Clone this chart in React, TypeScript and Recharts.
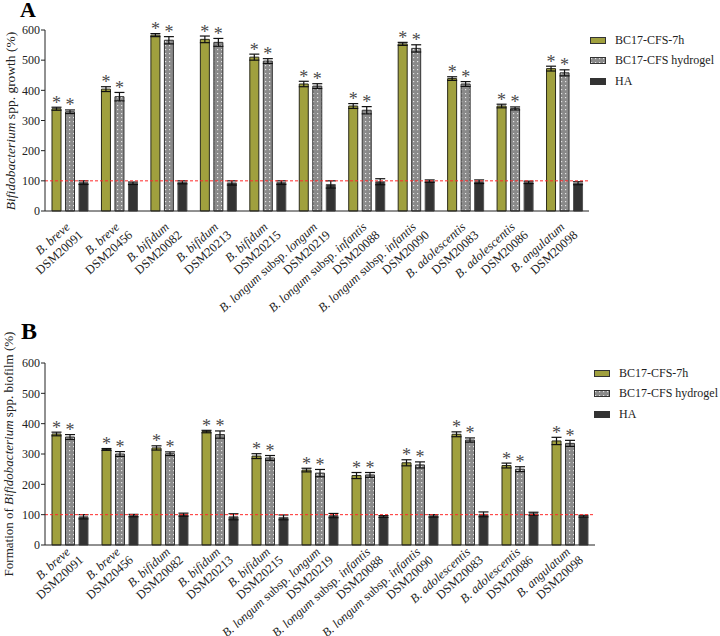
import React from 'react';
import { BarChart, Bar, XAxis, YAxis, ErrorBar, LabelList, ReferenceLine, Legend } from 'recharts';

const FONT = '"Liberation Serif", "Times New Roman", serif';
const GREEN = '#a0a03e';
const DARK = '#333333';

const species = [
  'B. breve',
  'B. breve',
  'B. bifidum',
  'B. bifidum',
  'B. bifidum',
  'B. longum subsp. longum',
  'B. longum subsp. infantis',
  'B. longum subsp. infantis',
  'B. adolescentis',
  'B. adolescentis',
  'B. angulatum',
];
const strains = [
  'DSM20091', 'DSM20456', 'DSM20082', 'DSM20213', 'DSM20215', 'DSM20219',
  'DSM20088', 'DSM20090', 'DSM20083', 'DSM20086', 'DSM20098',
];

// panel A: growth (%)
const growth7h = [339, 404, 583, 569, 510, 421, 348, 554, 439, 348, 472];
const growth7hErr = [5, 8, 5, 11, 10, 9, 8, 5, 6, 6, 8];
const growthGel = [329, 379, 566, 559, 497, 414, 334, 539, 421, 340, 458];
const growthGelErr = [6, 14, 12, 13, 8, 8, 12, 12, 8, 5, 10];
const growthHA = [94, 92, 95, 93, 94, 88, 97, 99, 97, 95, 92];
const growthHAErr = [6, 4, 5, 7, 6, 12, 10, 4, 6, 4, 5];

// panel B: biofilm formation (%)
const biofilm7h = [366, 315, 320, 374, 293, 247, 229, 271, 365, 262, 343];
const biofilm7hErr = [6, 3, 7, 4, 8, 6, 10, 10, 8, 8, 12];
const biofilmGel = [356, 300, 301, 364, 287, 237, 231, 264, 346, 250, 335];
const biofilmGelErr = [8, 8, 6, 12, 8, 12, 8, 10, 7, 8, 10];
const biofilmHA = [93, 97, 100, 93, 91, 97, 94, 96, 101, 103, 95];
const biofilmHAErr = [7, 4, 5, 10, 8, 7, 3, 4, 8, 5, 3];

const yTicks = [0, 100, 200, 300, 400, 500, 600];

const seriesNames = ['BC17-CFS-7h', 'BC17-CFS hydrogel', 'HA'];
const seriesFills = [GREEN, 'url(#dotsPattern)', DARK];

function buildRows(a: number[], ae: number[], b: number[], be: number[], c: number[], ce: number[]) {
  return strains.map((s, i) => ({
    strain: s,
    species: species[i],
    cfs: a[i],
    cfsErr: ae[i],
    gel: b[i],
    gelErr: be[i],
    ha: c[i],
    haErr: ce[i],
  }));
}

const growthRows = buildRows(growth7h, growth7hErr, growthGel, growthGelErr, growthHA, growthHAErr);
const biofilmRows = buildRows(biofilm7h, biofilm7hErr, biofilmGel, biofilmGelErr, biofilmHA, biofilmHAErr);

function SpeciesName({ name }: { name: string }) {
  const parts = name.split(' subsp. ');
  if (parts.length === 1) return <tspan fontStyle="italic">{name}</tspan>;
  return (
    <>
      <tspan fontStyle="italic">{parts[0]}</tspan>
      <tspan fontStyle="normal"> subsp. </tspan>
      <tspan fontStyle="italic">{parts[1]}</tspan>
    </>
  );
}

// two-line rotated label: species (italic) above, strain below
function CategoryTick(props: any) {
  const { x, payload, axisY, off } = props;
  const i = strains.indexOf(payload.value);
  const y1 = axisY + off;
  return (
    <g fontSize={12.5} fontFamily={FONT} fill="#222">
      <text transform={`translate(${x + 1},${y1}) rotate(-42)`} textAnchor="end">
        <SpeciesName name={species[i]} />
      </text>
      <text transform={`translate(${x + 14},${y1 + 8}) rotate(-42)`} textAnchor="end">
        {payload.value}
      </text>
    </g>
  );
}

function makeStar(errs: number[], vals: number[]) {
  return (props: any) => {
    const { x, y, width, height, index } = props;
    const k = height / vals[index];
    const top = y - errs[index] * k;
    return (
      <text x={x + width / 2} y={top + 1.5} textAnchor="middle" fontSize={18} fontFamily={FONT} fill="#4a4a4a">
        *
      </text>
    );
  };
}

function LegendBox() {
  return (
    <div style={{ fontFamily: FONT, fontSize: 12, color: '#222' }}>
      {seriesNames.map((n, i) => (
        <div key={n} style={{ display: 'flex', alignItems: 'center', height: 20.5 }}>
          <svg width={16} height={7} style={{ marginRight: 9 }}>
            <rect x={0.5} y={0.5} width={15} height={6} fill={seriesFills[i]} stroke="#333" strokeWidth={1} />
          </svg>
          <span>{n}</span>
        </div>
      ))}
    </div>
  );
}

function Panel({ rows, height, top, right, bottom, axisH, tickOff, yLabel, legendLeft, legendTop, errs, vals }: any) {
  const axisY = height - bottom - axisH;
  return (
    <BarChart
      width={720}
      height={height}
      data={rows}
      margin={{ top, right, left: 0, bottom }}
      barSize={9}
      barGap={4.5}
    >
      <XAxis
        dataKey="strain"
        axisLine={{ stroke: '#222' }}
        tickLine={false}
        tickSize={0}
        tickMargin={0}
        height={axisH}
        interval={0}
        tick={(p: any) => <CategoryTick {...p} axisY={axisY} off={tickOff} />}
      />
      <YAxis
        width={45}
        domain={[0, 600]}
        ticks={yTicks}
        tickSize={4}
        tickMargin={1}
        axisLine={{ stroke: '#222' }}
        tickLine={{ stroke: '#222' }}
        tick={{ fontSize: 12, fontFamily: FONT, fill: '#222' }}
        label={yLabel}
      />
      <Legend
        layout="vertical"
        align="center"
        verticalAlign="middle"
        wrapperStyle={{ left: legendLeft, top: legendTop, width: 140 }}
        content={() => <LegendBox />}
      />
      <Bar dataKey="cfs" name={seriesNames[0]} fill={GREEN} stroke="#2a2a1a" strokeWidth={1} isAnimationActive={false}>
        <ErrorBar dataKey="cfsErr" width={5} stroke="#111" strokeWidth={1.2} />
        <LabelList dataKey="cfs" content={makeStar(errs[0], vals[0])} />
      </Bar>
      <Bar dataKey="gel" name={seriesNames[1]} fill="url(#dotsPattern)" stroke="#333" strokeWidth={1} isAnimationActive={false}>
        <ErrorBar dataKey="gelErr" width={5} stroke="#111" strokeWidth={1.2} />
        <LabelList dataKey="gel" content={makeStar(errs[1], vals[1])} />
      </Bar>
      <Bar dataKey="ha" name={seriesNames[2]} fill={DARK} stroke="#555" strokeWidth={1} isAnimationActive={false}>
        <ErrorBar dataKey="haErr" width={5} stroke="#111" strokeWidth={1.2} />
      </Bar>
      <ReferenceLine y={100} stroke="#ff2a2a" strokeDasharray="3 2" strokeWidth={1} />
    </BarChart>
  );
}

function YLabelA() {
  return (
    <text transform="translate(15,121) rotate(-90)" textAnchor="middle" fontSize={13.5} fontFamily={FONT} fill="#222">
      <tspan fontStyle="italic">Bifidobacterium</tspan> spp. growth (%)
    </text>
  );
}

function YLabelB() {
  return (
    <text transform="translate(13,149) rotate(-90)" textAnchor="middle" fontSize={13} fontFamily={FONT} fill="#222">
      Formation of <tspan fontStyle="italic">Bifidobacterium</tspan> spp. biofilm (%)
    </text>
  );
}

export default function App() {
  return (
    <div style={{ position: 'absolute', left: 0, top: 0, width: 720, height: 636, background: '#fff', overflow: 'hidden' }}>
      <svg width={0} height={0} style={{ position: 'absolute' }}>
        <defs>
          <pattern id="dotsPattern" width={4} height={4} patternUnits="userSpaceOnUse">
            <rect width={4} height={4} fill="#8a8a8a" />
            <rect x={1} y={1} width={1.2} height={1.2} fill="#e4e4e4" />
          </pattern>
        </defs>
      </svg>
      <div style={{ position: 'absolute', left: 0, top: 305 }}>
        <Panel
          rows={biofilmRows}
          height={331}
          top={58}
          right={125}
          bottom={0}
          axisH={91}
          tickOff={8}
          yLabel={<YLabelB />}
          legendLeft={594}
          legendTop={58}
          errs={[biofilm7hErr, biofilmGelErr]}
          vals={[biofilm7h, biofilmGel]}
        />
      </div>
      <div style={{ position: 'absolute', left: 0, top: 0 }}>
        <Panel
          rows={growthRows}
          height={330}
          top={30}
          right={131}
          bottom={25}
          axisH={94}
          tickOff={17}
          yLabel={<YLabelA />}
          legendLeft={590}
          legendTop={30}
          errs={[growth7hErr, growthGelErr]}
          vals={[growth7h, growthGel]}
        />
      </div>
      <div style={{ position: 'absolute', left: 20, top: -3, fontFamily: FONT, fontWeight: 'bold', fontSize: 22 }}>A</div>
      <div style={{ position: 'absolute', left: 21, top: 318, fontFamily: FONT, fontWeight: 'bold', fontSize: 24 }}>B</div>
    </div>
  );
}
